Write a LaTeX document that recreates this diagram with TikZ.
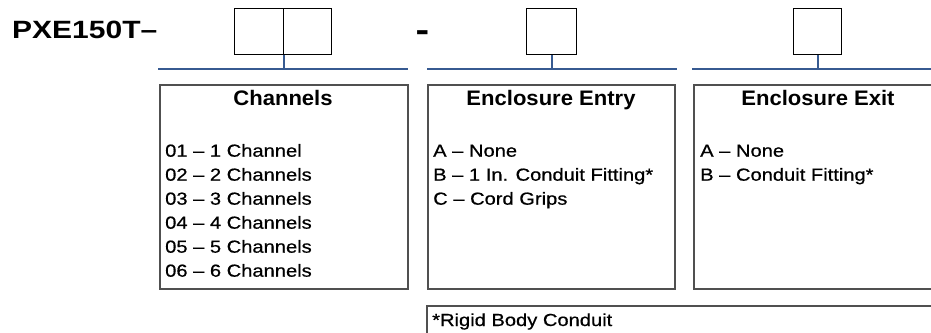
\documentclass[tikz,border=0pt]{standalone}
\usepackage{fontspec}
\setmainfont{Liberation Sans}
\newfontfamily\pxfont[FakeStretch=1.2]{Liberation Sans}
\newfontfamily\hdfont[FakeStretch=1.05]{Liberation Sans}
\newfontfamily\itemfont[FakeStretch=1.15,FakeBold=0.6]{Liberation Sans}
\definecolor{boxgray}{RGB}{80,80,80}
\definecolor{barblue}{RGB}{55,90,145}
\begin{document}
\begin{tikzpicture}[x=1pt,y=-1pt,
  codebox/.style={draw=black,line width=1.2pt,inner sep=0pt,minimum height=46pt,anchor=north west},
  bigbox/.style={draw=boxgray,line width=2.4pt,inner sep=0pt,anchor=north west},
  bar/.style={draw=barblue,line width=1.6pt},
  stem/.style={draw=barblue,line width=1.8pt},
  pxtext/.style={inner sep=0pt,anchor=base west,font=\pxfont\bfseries\fontsize{25}{30}\selectfont},
  dashtext/.style={inner sep=0pt,anchor=base west,font=\pxfont\bfseries\fontsize{34}{38}\selectfont},
  hdtext/.style={inner sep=0pt,anchor=base,font=\hdfont\bfseries\fontsize{21}{25}\selectfont},
  itemtext/.style={inner sep=0pt,anchor=base west,font=\itemfont\fontsize{17.5}{21}\selectfont}]
\clip (0,0) rectangle (931,332);
% part number
\node[pxtext] (pn) at (12,38) {PXE150T–};
\node[dashtext] (dash) at (415.5,41.2) {-};
% code boxes
\node[codebox,minimum width=49pt] (ch1) at (234,8) {};
\node[codebox,minimum width=48pt] (ch2) at (283,8) {};
\node[codebox,minimum width=50pt] (en) at (526,8) {};
\node[codebox,minimum width=48pt] (ex) at (793,8) {};
% blue bars
\coordinate (b1l) at (158,69); \coordinate (b1r) at (408,69);
\coordinate (b2l) at (427,69); \coordinate (b2r) at (677,69);
\coordinate (b3l) at (692,69); \coordinate (b3r) at (945,69);
\draw[bar] (b1l) -- (b1r);
\draw[bar] (b2l) -- (b2r);
\draw[bar] (b3l) -- (b3r);
\draw[stem] (ch1.south east) -- (ch1.south east |- b1l);
\draw[stem] (en.south) -- (en.south |- b2l);
\draw[stem] (ex.south) -- (ex.south |- b3l);
% option boxes
\node[bigbox,minimum width=248pt,minimum height=204pt] (chbox) at (159,84) {};
\node[bigbox,minimum width=247pt,minimum height=204pt] (enbox) at (427,84) {};
\node[bigbox,minimum width=250pt,minimum height=204pt] (exbox) at (693,84) {};
\node[bigbox,minimum width=520pt,minimum height=60pt] (fnbox) at (426,305) {};
% titles
\node[hdtext] (cht) at (283,105) {Channels};
\node[hdtext] (ent) at (551,105) {Enclosure Entry};
\node[hdtext] (ext) at (818,105) {Enclosure Exit};
% channels items
\node[itemtext] (c1) at (165,156.7) {01 – 1 Channel};
\node[itemtext] (c2) at (165,180.7) {02 – 2 Channels};
\node[itemtext] (c3) at (165,204.7) {03 – 3 Channels};
\node[itemtext] (c4) at (165,228.7) {04 – 4 Channels};
\node[itemtext] (c5) at (165,252.7) {05 – 5 Channels};
\node[itemtext] (c6) at (165,276.7) {06 – 6 Channels};
% entry items
\node[itemtext] (ea) at (433,156.7) {A – None};
\node[itemtext] (eb) at (433,180.7) {B – 1 In. Conduit Fitting*};
\node[itemtext] (ec) at (433,204.7) {C – Cord Grips};
% exit items
\node[itemtext] (xa) at (700,156.7) {A – None};
\node[itemtext] (xb) at (700,180.7) {B – Conduit Fitting*};
% footnote
\node[itemtext] (fn) at (432,326) {*Rigid Body Conduit};
\end{tikzpicture}
\end{document}
